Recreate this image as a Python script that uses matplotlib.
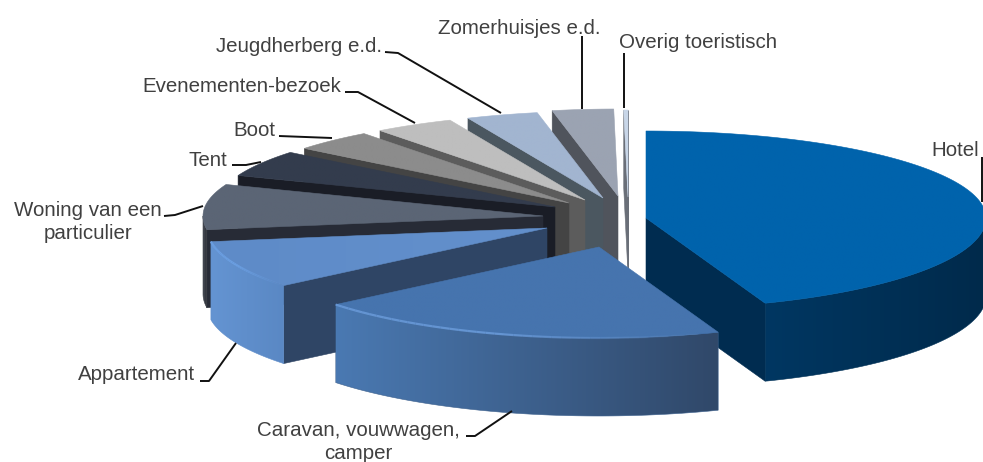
import numpy as np
import matplotlib
matplotlib.use("Agg")
import matplotlib.pyplot as plt
from matplotlib.colors import to_rgb
from matplotlib.patches import Polygon

plt.rcParams['font.family'] = ['Liberation Sans', 'DejaVu Sans']

# share of each slice in percent, clockwise from 12 o'clock
categories = ["Hotel", "Caravan, vouwwagen,\ncamper", "Appartement",
              "Woning van een\nparticulier", "Tent", "Boot", "Evenementen-bezoek",
              "Jeugdherberg e.d.", "Zomerhuisjes e.d.", "Overig toeristisch"]
values = [44.3, 19.8, 8.5, 8.3, 4.9, 3.9, 3.8, 3.4, 2.9, 0.2]

# styling per slice
top_left = ["#0063AC", "#4674AE", "#5E8BC8", "#5B6575", "#333C4D",
            "#8C8C8C", "#BEBEBE", "#A2B5D0", "#9BA3B2", "#C8D6E8"]
top_right = ["#0063AC", "#4674AE", "#6390CC", "#5B6575", "#333C4D",
             "#8C8C8C", "#BEBEBE", "#A2B5D0", "#9BA3B2", "#C8D6E8"]
wall_left = ["#003762", "#4A79B2", "#6494D2", "#4A4F59", "#262B36",
             "#606060", "#808080", "#6A7A90", "#606670", "#8090A0"]
wall_right = ["#002A4B", "#304869", "#5A88C4", "#2A2C33", "#262B36",
              "#606060", "#808080", "#6A7A90", "#606670", "#8090A0"]
face_color = ["#002C50", "#2E4566", "#2F4565", "#272B36", "#1A1D26",
              "#444444", "#5C5C5C", "#4B5760", "#50545C", "#6A6F78"]
rim_color = [None, "#6A9BDA", "#6DA2E6", None, None, None, None, None, None, None]
rim_until = [0, 165, 231, 0, 0, 0, 0, 0, 0, 0]  # highlight fades out at this angle

# pixel position of each slice tip (pie explosion)
tip_x = [646, 599, 547, 543, 555, 569, 585, 603, 618, 628]
tip_y = [218, 247, 228, 216, 207, 203, 200, 198, 196, 197]

RX, RY_BACK, RY_FRONT = 340, 87, 91
DEPTH = 78
draw_order = [0, 9, 8, 7, 6, 5, 4, 3, 2, 1]

# label text anchors and leader lines
label_pos = [(955, 151, "center"), (358, 442, "center"), (137, 375, "center"),
             (88, 222, "center"), (208, 160, "center"), (254, 131, "center"),
             (242, 87, "center"), (299, 47, "center"), (519, 28, "center"),
             (698, 43, "center")]
leaders = [[(982, 157), (982, 202)],
           [(466, 436), (475, 436), (512, 411)],
           [(200, 381), (209, 381), (236, 343)],
           [(164, 216), (175, 215), (203, 206)],
           [(232, 165), (246, 165), (261, 162)],
           [(279, 136), (332, 138)],
           [(345, 92), (358, 92), (415, 123)],
           [(385, 52), (398, 53), (501, 113)],
           [(582, 36), (582, 109)],
           [(624, 53), (624, 108)]]

fig = plt.figure(figsize=(9.83, 4.62), dpi=100)
ax = fig.add_axes([0, 0, 1, 1])
ax.set_axis_off()


def rim(i, a):
    # point(s) on the top rim of slice i, angle in degrees clockwise from top
    a = np.radians(a)
    ry = np.where(np.cos(a) > 0, RY_BACK, RY_FRONT)
    return tip_x[i] + RX * np.sin(a), tip_y[i] - ry * np.cos(a)


def grad_fill(xs, ys, c1, c2, z):
    # horizontal gradient clipped to a polygon
    pts = np.column_stack([xs, ys])
    patch = Polygon(pts, closed=True, facecolor="none", edgecolor="none", zorder=z)
    ax.add_patch(patch)
    ramp = np.linspace(to_rgb(c1), to_rgb(c2), 256)[None, :, :]
    im = ax.imshow(ramp, extent=(min(xs), max(xs), max(ys), min(ys)), aspect="auto",
                   interpolation="bilinear", zorder=z)
    im.set_clip_path(patch)
    # thin edge in the mid colour hides the clipping seam
    mid = tuple(np.mean([to_rgb(c1), to_rgb(c2)], axis=0))
    ax.add_patch(Polygon(pts, closed=True, facecolor="none", edgecolor=mid, lw=0.4, zorder=z))


edges = np.concatenate([[0], np.cumsum(values)]) / np.sum(values) * 360

z = 1
for i in draw_order:
    start, end = edges[i], edges[i + 1]
    # cut faces turned towards the viewer
    for a, show in [(start, np.sin(np.radians(start)) < 0), (end, np.sin(np.radians(end)) > 0)]:
        if show:
            px, py = rim(i, a)
            ax.add_patch(Polygon([(tip_x[i], tip_y[i]), (px, py), (px, py + DEPTH),
                                  (tip_x[i], tip_y[i] + DEPTH)], closed=True,
                                 facecolor=face_color[i], edgecolor=face_color[i],
                                 lw=0.4, zorder=z))
            z += 1
    # outer wall, front half only
    lo, hi = max(start, 90), min(end, 270)
    if hi > lo:
        wx, wy = rim(i, np.linspace(lo, hi, 80))
        grad_fill(np.r_[wx, wx[::-1]], np.r_[wy, wy[::-1] + DEPTH],
                  wall_left[i], wall_right[i], z)
        z += 1
    # top surface
    tx, ty = rim(i, np.linspace(start, end, 120))
    grad_fill(np.r_[tip_x[i], tx], np.r_[tip_y[i], ty], top_left[i], top_right[i], z)
    z += 1
    if rim_color[i]:
        # highlight along the front edge, stronger towards the left
        wx, wy = rim(i, np.linspace(rim_until[i], min(end, 270), 41))
        for k in range(40):
            ax.plot(wx[k:k + 2], wy[k:k + 2], color=rim_color[i], lw=1.6,
                    alpha=0.85 * min(1, (k + 1) / 20), zorder=z, solid_capstyle="butt")
        z += 1

for i, name in enumerate(categories):
    lx, ly, ha = label_pos[i]
    ax.text(lx, ly, name, ha=ha, va="center", fontsize=14.8, color="#404040",
            linespacing=1.22, zorder=z)
    pts = np.array(leaders[i])
    ax.plot(pts[:, 0], pts[:, 1], color="#111111", lw=1.4, zorder=z,
            solid_capstyle="butt")

ax.set_xlim(0, 983)
ax.set_ylim(462, 0)

fig.savefig("out.png", dpi=100)
